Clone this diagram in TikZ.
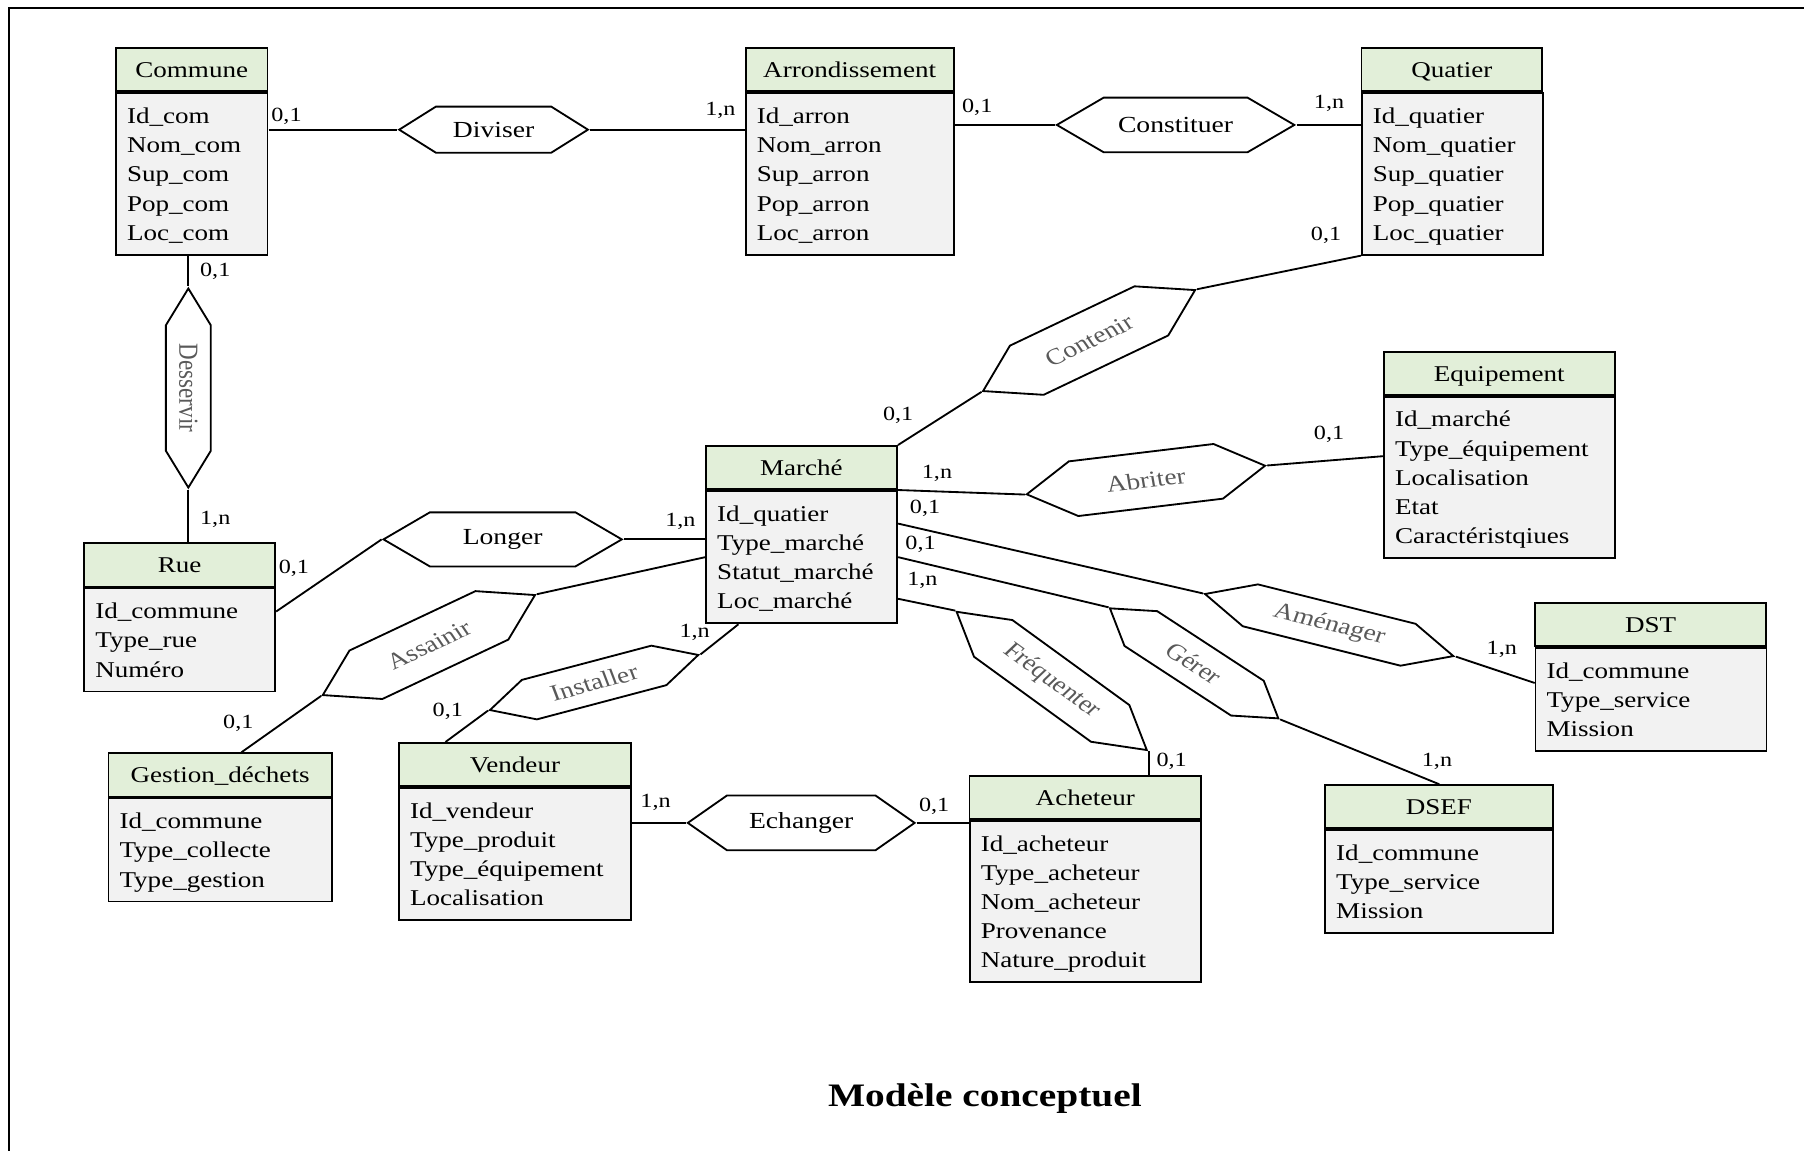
\documentclass[tikz,border=0pt]{standalone}
\usepackage{fontspec}
\setmainfont{Liberation Serif}
\usepackage{tikz}
\usetikzlibrary{positioning, calc, shapes.symbols}
\definecolor{headgreen}{HTML}{E2EFD9}
\definecolor{bodygray}{HTML}{F2F2F2}

\begin{document}
\begin{tikzpicture}[x=0.8333pt, y=-1pt, xscale=1.2, transform shape, line width=1.6pt,
    ent/.style={draw, fill=headgreen, anchor=north west, inner sep=0pt, minimum height=37.5pt,
        text height=14pt, text depth=0pt, font=\fontsize{19.6}{25.4}\selectfont},
    att/.style={draw, fill=bodygray, inner xsep=8pt, inner ysep=8pt, align=left,
        font=\fontsize{19.6}{25.4}\selectfont,
        execute at begin node={\rule{0pt}{18.4pt}}, execute at end node={\rule[-4.5pt]{0pt}{4.5pt}}},
    rel/.style={draw, fill=white, shape=signal, signal to=west and east, signal pointer angle=70,
        inner sep=0pt, font=\fontsize{20}{22}\selectfont},
    relr/.style={rel, text=black!65},
    card/.style={inner sep=0pt, font=\fontsize{17.5}{19}\selectfont}]
    \useasboundingbox (0,0) rectangle (1568,1000);
    \draw[line width=1.6pt] (7.5,1000) -- (7.5,7) -- (1568,7);

    % entites
    \node[ent, minimum width=109.75pt] (communeH) at (99.8,41) {Commune};
    \node[att, text width=93.75pt, below=0pt of communeH] (communeB) {Id\_com\\Nom\_com\\Sup\_com\\Pop\_com\\Loc\_com};
    \node[ent, minimum width=150.7pt] (arrondH) at (647.1,41) {Arrondissement};
    \node[att, text width=134.7pt, below=0pt of arrondH] (arrondB) {Id\_arron\\Nom\_arron\\Sup\_arron\\Pop\_arron\\Loc\_arron};
    \node[ent, minimum width=131pt] (quatierH) at (1182.4,41) {Quatier};
    \node[att, text width=115pt, below=0pt of quatierH] (quatierB) {Id\_quatier\\Nom\_quatier\\Sup\_quatier\\Pop\_quatier\\Loc\_quatier};
    \node[ent, minimum width=167.25pt] (equipH) at (1201.8,304.8) {Equipement};
    \node[att, text width=151.25pt, below=0pt of equipH] (equipB) {Id\_marché\\Type\_équipement\\Localisation\\Etat\\Caractéristqiues};
    \node[ent, minimum width=138.1pt] (marcheH) at (612.7,386.8) {Marché};
    \node[att, text width=122.1pt, below=0pt of marcheH] (marcheB) {Id\_quatier\\Type\_marché\\Statut\_marché\\Loc\_marché};
    \node[ent, minimum width=138.1pt] (rueH) at (72.3,471.4) {Rue};
    \node[att, text width=122.1pt, below=0pt of rueH] (rueB) {Id\_commune\\Type\_rue\\Numéro};
    \node[ent, minimum width=167.3pt] (dstH) at (1333.4,523) {DST};
    \node[att, text width=151.3pt, below=0pt of dstH] (dstB) {Id\_commune\\Type\_service\\Mission};
    \node[ent, minimum width=165.2pt] (dsefH) at (1150.6,681.6) {DSEF};
    \node[att, text width=149.2pt, below=0pt of dsefH] (dsefB) {Id\_commune\\Type\_service\\Mission};
    \node[ent, minimum width=167.75pt] (achetH) at (841.7,673.4) {Acheteur};
    \node[att, text width=151.75pt, below=0pt of achetH] (achetB) {Id\_acheteur\\Type\_acheteur\\Nom\_acheteur\\Provenance\\Nature\_produit};
    \node[ent, minimum width=168pt] (vendH) at (345.8,644.9) {Vendeur};
    \node[att, text width=152pt, below=0pt of vendH] (vendB) {Id\_vendeur\\Type\_produit\\Type\_équipement\\Localisation};
    \node[ent, minimum width=161.75pt] (gestH) at (93.3,653.9) {Gestion\_déchets};
    \node[att, text width=145.75pt, below=0pt of gestH] (gestB) {Id\_commune\\Type\_collecte\\Type\_gestion};

    % associations
    \node[rel, minimum width=136.7pt, minimum height=40pt, signal pointer angle=74] (diviser) at (429,112.7) {Diviser};
    \node[rel, minimum width=172pt, minimum height=47.5pt] (constituer) at (1021.8,108.6) {Constituer};
    \node[rel, minimum width=172.6pt, minimum height=47pt] (longer) at (436.9,468.8) {Longer};
    \node[rel, minimum width=164.3pt, minimum height=47.5pt, signal pointer angle=80] (echanger) at (696.4,715.2) {Echanger};
    \node[relr, rotate=-90, minimum width=173pt, minimum height=32.5pt, signal pointer angle=54] (desservir) at (163.7,337.25) {Desservir};
    \node[relr, rotate=29.75, minimum width=176.9pt, minimum height=49.2pt, signal pointer angle=68] (contenir) at (946.6,296) {Contenir};
    \node[relr, rotate=8.2, minimum width=174.4pt, minimum height=48pt] (abriter) at (996,417.2) {Abriter};
    \node[relr, rotate=-16.7, minimum width=187.8pt, minimum height=38pt, signal pointer angle=58] (amenager) at (1155.3,543.25) {Aménager};
    \node[relr, rotate=-41.1, minimum width=182.8pt, minimum height=42.3pt, signal pointer angle=62] (frequenter) at (914.1,591.8) {Fréquenter};
    \node[relr, rotate=-38.1, minimum width=155pt, minimum height=38.4pt, signal pointer angle=68] (gerer) at (1037.9,576.55) {Gérer};
    \node[relr, rotate=29.5, minimum width=176.6pt, minimum height=48.4pt, signal pointer angle=68] (assainir) at (372.8,560.65) {Assainir};
    \node[relr, rotate=17.6, minimum width=158.3pt, minimum height=36pt, signal pointer angle=62] (installer) at (516.4,593.2) {Installer};

    % liens
    \draw (communeB.east |- diviser.west) -- (diviser.west);
    \draw (diviser.east) -- (arrondB.west |- diviser.east);
    \draw (arrondB.east |- constituer.west) -- (constituer.west);
    \draw (constituer.east) -- (quatierB.west |- constituer.east);
    \draw (communeB.south -| desservir.west) -- (desservir.west);
    \draw (desservir.east) -- (rueH.north -| desservir.east);
    \draw ($(rueB.north east)!0.23!(rueB.south east)$) -- (longer.west);
    \draw (longer.east) -- (marcheB.west |- longer.east);
    \draw (marcheH.north east) -- (contenir.west);
    \draw (contenir.east) -- (quatierB.south west);
    \draw (marcheB.north east) -- (abriter.west);
    \draw (abriter.east) -- ($(equipB.north west)!0.37!(equipB.south west)$);
    \draw ($(marcheB.north east)!0.25!(marcheB.south east)$) -- (amenager.west);
    \draw (amenager.east) -- ($(dstB.north west)!0.345!(dstB.south west)$);
    \draw (marcheB.east) -- (gerer.west);
    \draw (gerer.east) -- (dsefH.north);
    \draw ($(marcheB.north east)!0.81!(marcheB.south east)$) -- (frequenter.west);
    \draw (frequenter.east) -- (frequenter.east |- achetH.north);
    \draw (marcheB.west) -- (assainir.east);
    \draw (assainir.west) -- ($(gestH.north west)!0.594!(gestH.north east)$);
    \draw (installer.east) -- ($(marcheB.south west)!0.172!(marcheB.south east)$);
    \draw (installer.west) -- ($(vendH.north west)!0.203!(vendH.north east)$);
    \draw (vendB.east |- echanger.west) -- (echanger.west);
    \draw (echanger.east) -- (achetB.west |- echanger.east);

    % cardinalites
    \node[card] (k1) at (249,101) {0,1};
    \node[card] (k2) at (626.2,96.2) {1,n};
    \node[card] (k3) at (849.4,93.1) {0,1};
    \node[card] (k4) at (1155.2,90) {1,n};
    \node[card] (k5) at (187.1,235.9) {0,1};
    \node[card] (k6) at (187.1,451.6) {1,n};
    \node[card] (k7) at (255.5,494.1) {0,1};
    \node[card] (k8) at (591.4,453.4) {1,n};
    \node[card] (k9) at (1152.6,204.9) {0,1};
    \node[card] (k10) at (780.7,360.7) {0,1};
    \node[card] (k11) at (814.4,411.4) {1,n};
    \node[card] (k12) at (804,441.8) {0,1};
    \node[card] (k13) at (800.1,472.9) {0,1};
    \node[card] (k14) at (801.7,504.1) {1,n};
    \node[card] (k15) at (1155.2,377.2) {0,1};
    \node[card] (k16) at (1305.3,564.5) {1,n};
    \node[card] (k17) at (1018.4,661.8) {0,1};
    \node[card] (k18) at (1249,661.8) {1,n};
    \node[card] (k19) at (812,700.7) {0,1};
    \node[card] (k20) at (569.8,697.2) {1,n};
    \node[card] (k21) at (389.2,618.5) {0,1};
    \node[card] (k22) at (603.8,549.3) {1,n};
    \node[card] (k23) at (207.1,628.6) {0,1};

    \node[font=\fontsize{28.5}{30}\selectfont\bfseries] (titre) at (856,955) {Modèle conceptuel};
\end{tikzpicture}
\end{document}
